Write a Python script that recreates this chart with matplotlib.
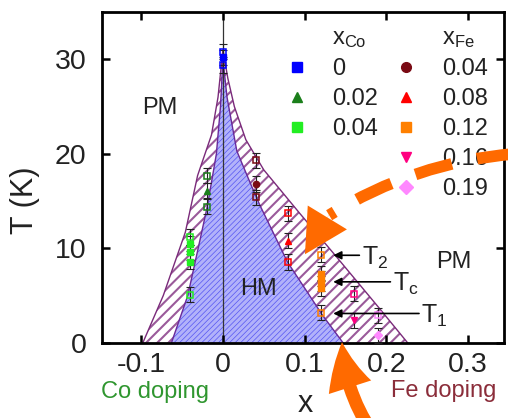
import matplotlib
matplotlib.use('Agg')
import matplotlib.pyplot as plt
from matplotlib.lines import Line2D
from matplotlib.patches import FancyArrowPatch, ArrowStyle

plt.rcParams['font.family'] = 'Liberation Sans'
plt.rcParams['mathtext.fontset'] = 'custom'
plt.rcParams['mathtext.rm'] = 'Liberation Sans'
plt.rcParams['mathtext.it'] = 'Liberation Sans'

# Co doping is put on the negative side of the x axis
co_x = [0.0, -0.02, -0.04]
co_labels = ['0', '0.02', '0.04']
co_T2 = [30.8, 17.7, 11.2]
co_T1 = [29.4, 14.4, 5.1]
co_Tc = [[30.2], [16.1], [10.5, 9.6, 8.6]]
co_colors = ['#0000ff', '#1b7f1b', '#22ee22']
co_markers = ['s', '^', 's']

fe_x = [0.04, 0.08, 0.12, 0.16, 0.19]
fe_labels = ['0.04', '0.08', '0.12', '0.16', '0.19']
fe_T2 = [19.3, 13.7, 9.3, 5.2, 2.9]
fe_T1 = [15.4, 8.55, 3.2, None, None]
fe_Tc = [[16.8], [10.8], [7.3, 6.8, 6.3, 5.8], [2.4], [0.8]]
fe_colors = ['#7a0a14', '#ff0000', '#ff8000', '#ff0080', '#ff88ff']
fe_markers = ['o', '^', 's', 'v', 'D']

dT = 0.8

# phase boundaries: outer edge of the T1..T2 band and the HM region
outer_x = [-0.098, -0.073, -0.046, -0.031, -0.014, -0.006, 0.0,
           0.006, 0.014, 0.028, 0.05, 0.094, 0.137, 0.19, 0.226]
outer_T = [0, 5.0, 11.7, 17.7, 22.0, 26.0, 31.0,
           28.0, 25.0, 21.5, 18.3, 13.7, 9.3, 3.8, 0]
inner_x = [-0.063, -0.043, -0.026, -0.019, -0.008, -0.003, 0.0,
           0.005, 0.017, 0.033, 0.045, 0.079, 0.122, 0.147]
inner_T = [0, 5.0, 11.7, 14.5, 20.0, 25.0, 30.0,
           26.0, 20.3, 17.0, 14.6, 8.55, 2.9, 0]

# arrows to the three characteristic temperatures of x_Fe = 0.12
mark_names = ['T$_2$', 'T$_c$', 'T$_1$']
mark_T = [9.26, 6.45, 3.1]
mark_text_x = [0.170, 0.208, 0.243]

orange = '#ff6a00'

fig = plt.figure(figsize=(5.08, 4.18), dpi=100)
ax = fig.add_axes([0.2008, 0.180, 0.7913, 0.791])

with plt.rc_context({'hatch.linewidth': 1.5}):
    band = ax.fill(outer_x, outer_T, facecolor='white', edgecolor='#9a5a9a',
                   hatch='///', linewidth=0, zorder=1)[0]
with plt.rc_context({'hatch.linewidth': 0.5}):
    hm = ax.fill(inner_x, inner_T, facecolor='#b2b2fa', edgecolor='#5555f2',
                 hatch='//////', linewidth=0, zorder=1.2)[0]
for p, w in ((band, 1.5), (hm, 0.5)):
    if hasattr(p, 'set_hatch_linewidth'):
        p.set_hatch_linewidth(w)
ax.plot(outer_x, outer_T, color='#7a2a7a', lw=1.0, zorder=1.3)
ax.plot(inner_x, inner_T, color='#6a2a9a', lw=1.0, zorder=1.3)
ax.axvline(0, color='#333333', lw=0.9, zorder=1.5)

def draw_series(x, T2, T1, Tc, color, marker):
    edges = [t for t in (T2, T1) if t is not None]
    allT = edges + Tc
    ax.errorbar([x] * len(allT), allT, yerr=dT, fmt='none', ecolor='#222222',
                elinewidth=0.8, capsize=3, capthick=0.8, zorder=3)
    ax.plot([x] * len(edges), edges, 's', mfc='none', mec=color, ms=4.5,
            mew=1.1, zorder=3.5)
    ax.plot([x] * len(Tc), Tc, marker, color=color, ms=4.5, zorder=3.6)

for i in range(len(co_x)):
    draw_series(co_x[i], co_T2[i], co_T1[i], co_Tc[i], co_colors[i], co_markers[i])
for i in range(len(fe_x)):
    draw_series(fe_x[i], fe_T2[i], fe_T1[i], fe_Tc[i], fe_colors[i], fe_markers[i])

for name, t, tx in zip(mark_names, mark_T, mark_text_x):
    ax.annotate('', xy=(0.135, t), xytext=(tx - 0.003, t),
                arrowprops=dict(arrowstyle='-|>', color='black', lw=1.2,
                                mutation_scale=12, shrinkA=0, shrinkB=0),
                zorder=4)
    ax.text(tx, t - 1.0, name, fontsize=18, color='#222222', va='baseline',
            ha='left', zorder=4)

ax.text(-0.077, 24.8, 'PM', fontsize=17, color='#222222', ha='center', va='center')
ax.text(0.282, 8.6, 'PM', fontsize=17, color='#222222', ha='center', va='center')
ax.text(0.0435, 5.7, 'HM', fontsize=17, color='#222222', ha='center', va='center',
        zorder=4)

# legend: two columns with x_Co / x_Fe headers
blank = Line2D([], [], ls='none')
handles = [blank]
labels = [r'x$_{\rm Co}$']
for lab, c, m in zip(co_labels, co_colors, co_markers):
    handles.append(Line2D([], [], ls='none', marker=m, color=c, ms=7))
    labels.append(lab)
handles += [blank, blank, blank]
labels += ['', '', r'x$_{\rm Fe}$']
for lab, c, m in zip(fe_labels, fe_colors, fe_markers):
    handles.append(Line2D([], [], ls='none', marker=m, color=c, ms=7))
    labels.append(lab)
leg = ax.legend(handles, labels, ncol=2, loc='upper left',
                bbox_to_anchor=(0.455, 0.955), frameon=False, fontsize=17,
                handlelength=1.0, handletextpad=1.0, columnspacing=0.7,
                labelspacing=0.34, borderaxespad=0, borderpad=0)
for t in leg.get_texts():
    t.set_color('#222222')

ax.set_xlim(-0.148, 0.344)
ax.set_ylim(0, 35)
ax.set_xticks([-0.1, 0, 0.1, 0.2, 0.3])
ax.set_xticklabels(['-0.1', '0', '0.1', '0.2', '0.3'])
ax.set_yticks([0, 10, 20, 30])
ax.tick_params(direction='in', top=True, right=True, length=6, width=1.8,
               labelsize=20.5, pad=7, colors='black', labelcolor='#222222')
ax.tick_params(axis='y', pad=11)
for s in ax.spines.values():
    s.set_linewidth(2.0)

ax.set_xlabel('x', fontsize=22, color='#222222')
ax.xaxis.set_label_coords(0.505, -0.14)
ax.set_ylabel('T (K)', fontsize=22, color='#222222')
ax.yaxis.set_label_coords(-0.155, 0.43)

ax.text(0.132, -0.167, 'Co doping', transform=ax.transAxes, fontsize=17,
        color='#2f962f', ha='center', va='baseline')
ax.text(0.851, -0.163, 'Fe doping', transform=ax.transAxes, fontsize=17,
        color='#8b2d3a', ha='center', va='baseline')

# orange guide arrows
curve = FancyArrowPatch((0.357, 20.0), (0.1300, 13.5), arrowstyle='-',
                        connectionstyle='arc3,rad=0.12', color=orange,
                        lw=8.4, linestyle=(0, (3.25, 2.2)), capstyle='butt',
                        shrinkA=0, shrinkB=0, zorder=10, clip_on=False)
ax.add_patch(curve)
head = FancyArrowPatch((0.1310, 13.72), (0.1004, 9.37),
                       arrowstyle=ArrowStyle('simple', head_length=31,
                                             head_width=33, tail_width=0.1),
                       mutation_scale=1, color=orange, lw=0,
                       shrinkA=0, shrinkB=0, zorder=10, clip_on=False)
ax.add_patch(head)
up = FancyArrowPatch((0.1824, -9.45), (0.1457, 0.07),
                     arrowstyle=ArrowStyle('simple', head_length=33,
                                           head_width=32, tail_width=9.5),
                     connectionstyle='arc3,rad=-0.14', mutation_scale=1,
                     color=orange, lw=0, shrinkA=0, shrinkB=0, zorder=10,
                     clip_on=False)
ax.add_patch(up)

fig.savefig('out.png', dpi=100)
